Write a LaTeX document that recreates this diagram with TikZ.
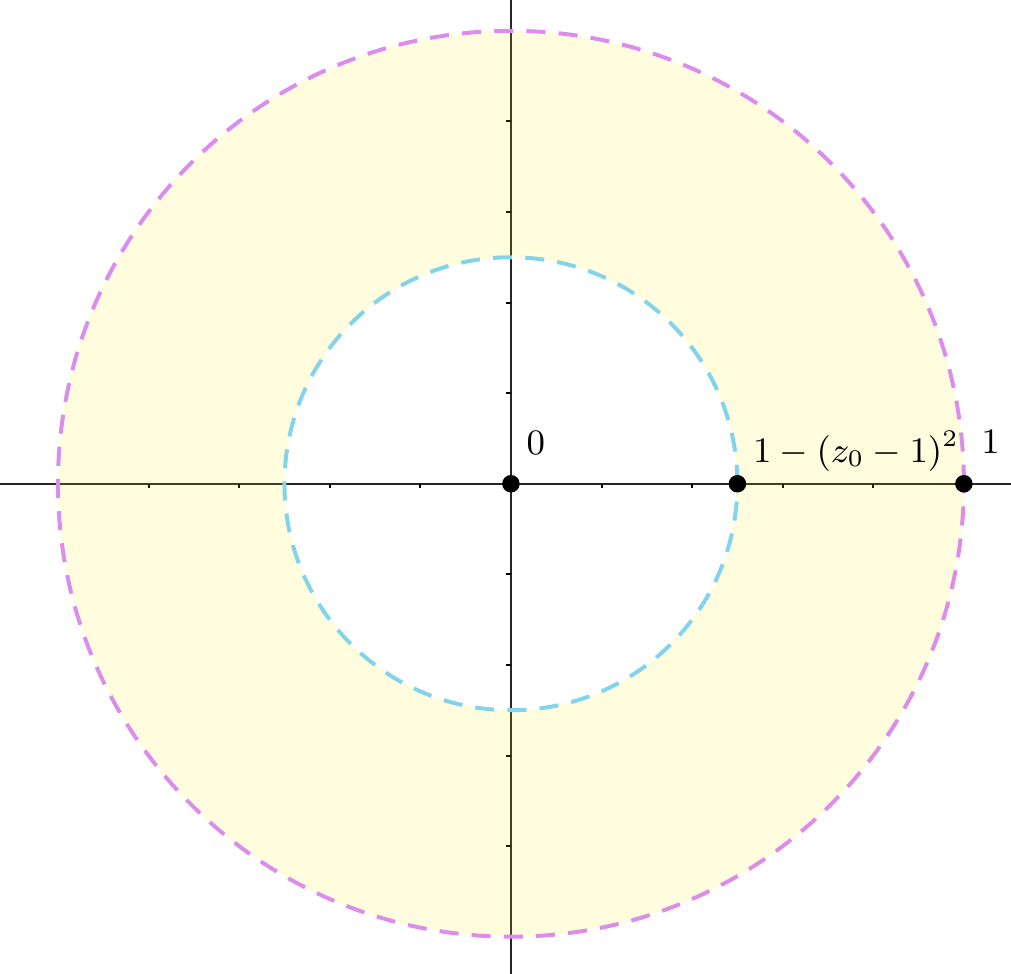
\documentclass[tikz,border=0pt]{standalone}
\usetikzlibrary{calc}
\definecolor{outercol}{RGB}{220,140,235}
\definecolor{innercol}{RGB}{130,212,235}

\begin{document}
\begin{tikzpicture}[x=4cm, y=4cm, font=\small,
  dot/.style={circle, fill=black, inner sep=0pt, minimum size=4.4pt},
  lbl/.style={anchor=north west, inner sep=0pt},
  bound/.style={line width=1pt, dash pattern=on 4.8pt off 3.3pt}]
% ---------- parameters ----------
\def\Rout{1}      % outer radius
\def\Rin{0.5}     % inner radius 1-(z_0-1)^2
\useasboundingbox (-1.128,-1.082) rectangle (1.104,1.068);

% ---------- axes ----------
\draw[line width=0.5pt, black!85] (-1.128,0) -- (1.104,0);
\draw[line width=0.5pt, black!85] (0,-1.082) -- (0,1.068);
\foreach \t in {-1,-0.8,...,1} {
  \draw[line width=0.5pt] (\t,0) -- ++(0,-0.01);
  \draw[line width=0.5pt] (0,\t) -- ++(-0.01,0);
}

% ---------- annulus ----------
\fill[yellow, fill opacity=0.13, even odd rule]
  (0,0) circle (\Rout) (0,0) circle (\Rin);
\draw[bound, outercol] (0,0) circle (\Rout);
\draw[bound, innercol] (0,0) circle (\Rin);

% ---------- points ----------
\node (p0) [dot] at (0,0) {};
\node (p1) [dot] at (\Rin,0) {};
\node (p2) [dot] at (\Rout,0) {};
\node (l0) [lbl] at ($(p0)+(0.033,0.117)$) {$0$};
\node (l1) [lbl] at ($(p1)+(0.033,0.117)$) {$1-(z_0-1)^2$};
\node (l2) [lbl] at ($(p2)+(0.037,0.119)$) {$1$};

\end{tikzpicture}
\end{document}
